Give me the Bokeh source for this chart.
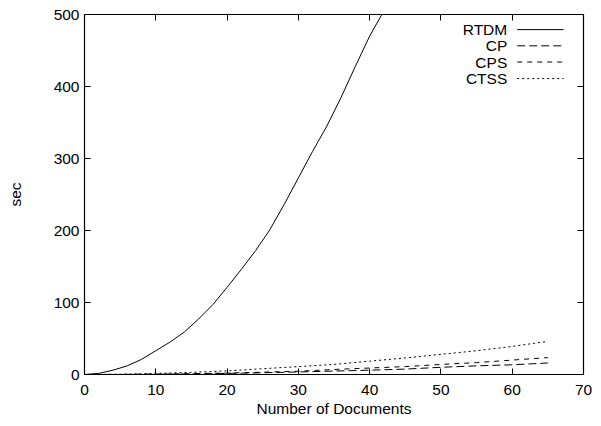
from bokeh.plotting import figure
from bokeh.models import LinearAxis, Range1d, Label, Arrow, FixedTicker
from bokeh.embed import file_html
from bokeh.resources import INLINE

# ---- data ----
rtdm_x = [0, 2, 4, 6, 8, 10, 12, 14, 16, 18, 20, 22, 24, 26, 28, 30, 32, 34, 36, 38, 40, 42, 44]
rtdm_y = [0, 1.5, 6, 12, 21, 33, 45, 59, 77, 97, 121, 146, 172, 201, 236, 273, 310, 345, 385, 428, 470, 505, 545]

other_x = [0, 5, 10, 15, 20, 25, 30, 35, 40, 45, 50, 55, 60, 65]
cp_y   = [0, 0.1, 0.3, 0.8, 1.5, 2.4, 3.5, 4.8, 6, 7.5, 10, 12, 13.5, 16]
cps_y  = [0, 0.1, 0.5, 1.2, 2, 3.2, 4.5, 7, 9, 11, 14, 16.5, 20, 23.5]
ctss_y = [0, 0.3, 1.5, 3, 5, 8, 11, 14, 18.5, 23, 28, 33, 39, 46]

series_names = ["RTDM", "CP", "CPS", "CTSS"]
series_dash = ["solid", "8 4", "5 5", "2 3"]

x_ticks = [0, 10, 20, 30, 40, 50, 60, 70]
y_ticks = [0, 100, 200, 300, 400, 500]

FONT = "Liberation Sans"
FS = "15.5px"

p = figure(width=595, height=420, output_backend="svg", toolbar_location=None,
           x_range=Range1d(0, 70), y_range=Range1d(0, 500),
           min_border_left=84, min_border_right=12, min_border_top=14, min_border_bottom=46)
p.xgrid.visible = False
p.ygrid.visible = False
p.outline_line_color = "black"
p.outline_line_width = 1.2
p.background_fill_color = "white"

def style_axis(ax, ticks):
    ax.ticker = FixedTicker(ticks=ticks)
    ax.major_tick_in = 6
    ax.major_tick_out = 0
    ax.major_tick_line_color = "black"
    ax.minor_tick_line_color = None
    ax.axis_line_color = "black"
    ax.major_label_text_font = FONT
    ax.major_label_text_font_size = FS
    ax.major_label_text_color = "black"
    ax.axis_label_text_font = FONT
    ax.axis_label_text_font_size = FS
    ax.axis_label_text_font_style = "normal"
    ax.axis_label_text_color = "black"

def mirror_axis(ax, ticks):
    # only minor ticks (placed at the major positions) -> no labels at all
    ax.ticker = FixedTicker(ticks=[], minor_ticks=ticks)
    ax.major_tick_line_color = None
    ax.minor_tick_in = 6
    ax.minor_tick_out = 0
    ax.minor_tick_line_color = "black"
    ax.axis_line_color = None
    ax.major_label_standoff = 0

style_axis(p.xaxis[0], x_ticks)
style_axis(p.yaxis[0], y_ticks)
p.xaxis[0].axis_label = "Number of Documents"
p.yaxis[0].axis_label = "sec"
p.xaxis[0].major_label_standoff = 10
p.xaxis[0].axis_label_standoff = 2
p.yaxis[0].major_label_standoff = 5
p.yaxis[0].axis_label_standoff = 27

top_ax = LinearAxis()
mirror_axis(top_ax, x_ticks)
right_ax = LinearAxis()
mirror_axis(right_ax, y_ticks)
p.add_layout(top_ax, "above")
p.add_layout(right_ax, "right")

xs = [rtdm_x, other_x, other_x, other_x]
ys = [rtdm_y, cp_y, cps_y, ctss_y]
for sx, sy, dash in zip(xs, ys, series_dash):
    p.line(sx, sy, line_color="black", line_width=1, line_dash=dash)

# gnuplot-style legend: label right-aligned, line sample to its right
leg_text_x = 59.3
leg_line_x0 = 60.7
leg_line_x1 = 67.2
leg_rows = [479, 456.5, 434, 411]
for name, dash, yy in zip(series_names, series_dash, leg_rows):
    p.add_layout(Label(x=leg_text_x, y=yy, text=name, text_align="right",
                       text_baseline="middle", text_font=FONT, text_font_size=FS,
                       text_color="black"))
    p.add_layout(Arrow(x_start=leg_line_x0, y_start=yy, x_end=leg_line_x1, y_end=yy,
                       start=None, end=None, line_color="black", line_width=1,
                       line_dash=dash))

open("out.html", "w").write(file_html(p, INLINE))
